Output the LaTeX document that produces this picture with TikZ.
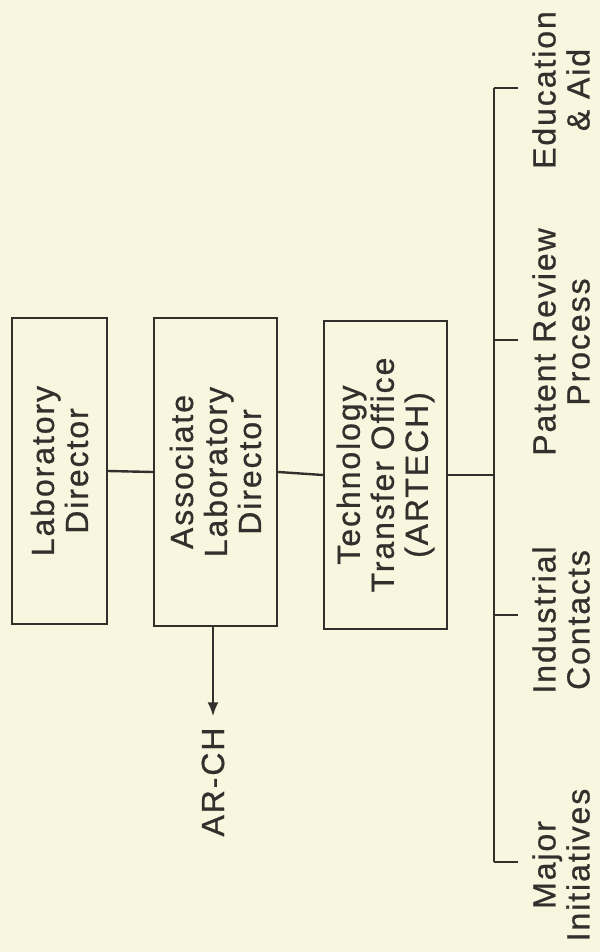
\documentclass[tikz,border=0pt]{standalone}
\usepackage{fontspec}
\setmainfont{Liberation Sans}[LetterSpace=6, FakeBold=0.8]
\usetikzlibrary{arrows.meta,positioning,calc}
\definecolor{paper}{RGB}{248,246,222}
\definecolor{ink}{RGB}{50,48,44}
\tikzset{
     office/.style={draw=ink, rectangle, rotate=90, align=center, inner sep=0pt},
     office1/.style={office, minimum width=153pt, minimum height=47.5pt},
     office2/.style={office, minimum width=154pt, minimum height=61.5pt},
     branch/.style={rotate=90, align=center, inner sep=0pt},
     link/.style={draw=ink},
}
\tikzset{>={Latex[length=7pt,width=5.5pt]}}
\def\ux{0.5pt}

\begin{document}
\begin{tikzpicture}[x=\ux, y=-\ux, line width=1.2pt, text=ink,
		font=\fontsize{16pt}{17pt}\selectfont]
		%%paper
		\fill[paper] (0,0) rectangle (600,952);
		\useasboundingbox (0,0) rectangle (600,952);

		%%boxes
		\node[office1] (labdir) at (59.5, 471) {Laboratory\\Director};
		\node[office2] (assocdir) at (215.5, 472) {Associate\\Laboratory\\Director};
		\node[office2] (tto) at (385.5, 475) {Technology\\Transfer Office\\(ARTECH)};
		\node[branch, inner sep=5pt] (arch) at (213, 782) {AR-CH};

		\draw[link] (labdir.south) -- (assocdir.north);
		\draw[link] (assocdir.south) -- (tto.north);
		\draw[link, ->] (assocdir.west -| arch) -- (arch.east);

		%%bus
		\coordinate (bustop) at (494, 88);
		\coordinate (busbot) at (494, 862);
		\draw[link] (tto.south) -- (tto.south -| bustop);
		\draw[link] (bustop) -- (busbot);

		%%branches
		\node[branch] (edu) at (561, 90) {Education\\\& Aid};
		\node[branch] (patent) at (561, 342) {Patent Review\\Process};
		\node[branch] (indus) at (561, 620) {Industrial\\Contacts};
		\node[branch] (major) at (561, 865) {Major\\Initiatives};

		\foreach \y in {88, 340, 615, 862}{
			\draw[link] (494, \y) -- (518, \y);
		}
\end{tikzpicture}
\end{document}
